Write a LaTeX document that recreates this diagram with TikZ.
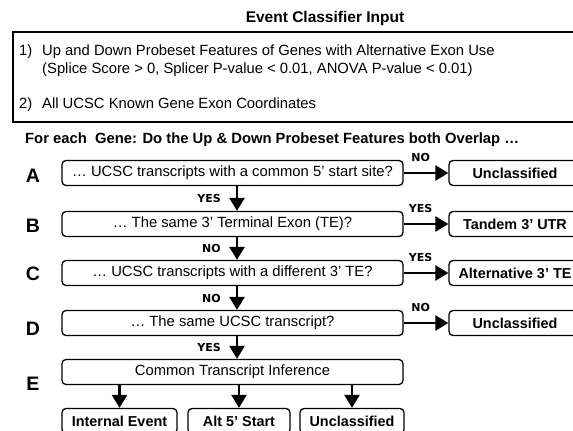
\documentclass[tikz,border=0pt]{standalone}
\usepackage{fontspec}
\setmainfont{Liberation Sans}
\newfontfamily\yesnofont{DejaVu Sans}
\usetikzlibrary{arrows.meta}

\begin{document}
\begin{tikzpicture}[x=1pt,y=-1pt,
    qbox/.style={draw,line width=1.3pt,rounded corners=4pt,minimum height=25pt,
        minimum width=341pt,inner sep=2pt,font=\fontsize{14.8}{16}\selectfont},
    outbox/.style={draw,line width=1.3pt,rounded corners=4pt,minimum height=25pt,
        inner sep=2pt,font=\fontsize{14.4}{16}\selectfont\bfseries},
    rowlab/.style={anchor=base,font=\fontsize{19.5}{20}\selectfont\bfseries},
    answer/.style={inner sep=1pt,font=\yesnofont\fontsize{11}{12}\selectfont\bfseries},
    flow/.style={line width=2.6pt,-{Triangle[width=15pt,length=13pt]}}]
    \useasboundingbox (0,0) rectangle (573,431);
    \clip (0,0) rectangle (573,431);

    % input
    \node[anchor=base,font=\fontsize{15.5}{18}\selectfont\bfseries] (title) at (325,22) {Event Classifier Input};
    \draw[line width=2.6pt] (13,32) rectangle (600,122);
    \node[anchor=base west,inner sep=0pt,font=\fontsize{14.8}{16}\selectfont] (in1) at (19,55)
        {\makebox[23pt][l]{1)}Up and Down Probeset Features of Genes with Alternative Exon Use};
    \node[anchor=base west,inner sep=0pt,font=\fontsize{14.8}{16}\selectfont] (in1b) at (42,73)
        {(Splice Score > 0, Splicer P-value < 0.01, ANOVA P-value < 0.01)};
    \node[anchor=base west,inner sep=0pt,font=\fontsize{14.8}{16}\selectfont] (in2) at (19,108)
        {\makebox[23pt][l]{2)}All UCSC Known Gene Exon Coordinates};
    \node[anchor=base west,inner sep=0pt,font=\fontsize{14.8}{16}\selectfont\bfseries] (foreach) at (25,143)
        {For each\ \ Gene: Do the Up \& Down Probeset Features both Overlap …};

    % questions
    \node[rowlab] (la) at (33,182) {A};
    \node[rowlab] (lb) at (33,232) {B};
    \node[rowlab] (lc) at (33,280) {C};
    \node[rowlab] (ld) at (33,335) {D};
    \node[rowlab] (le) at (33,390) {E};

    \node[qbox] (qa) at (232.5,173) {… UCSC transcripts with a common 5' start site?};
    \node[qbox] (qb) at (232.5,224) {… The same 3' Terminal Exon (TE)?};
    \node[qbox] (qc) at (232.5,273) {… UCSC transcripts with a different 3' TE?};
    \node[qbox] (qd) at (232.5,323) {… The same UCSC transcript?};
    \node[qbox] (qe) at (232.5,372) {Common Transcript Inference};

    % results
    \node[outbox,minimum width=132pt] (ua) at (515,173) {Unclassified};
    \node[outbox,minimum width=132pt] (tutr) at (515,224) {Tandem 3’ UTR};
    \node[outbox,minimum width=132pt] (alt3) at (515,273) {Alternative 3’ TE};
    \node[outbox,minimum width=132pt] (ud) at (515,323) {Unclassified};
    \node[outbox,minimum width=115pt] (inev) at (119.5,421) {Internal Event};
    \node[outbox,minimum width=102pt] (alt5) at (239,421) {Alt 5’ Start};
    \node[outbox,minimum width=104pt] (ue) at (352,421) {Unclassified};

    % arrows
    \draw[flow] ([xshift=4.5pt]qa.south) -- ([xshift=4.5pt]qb.north) node[midway,answer,left=14pt] {YES};
    \draw[flow] ([xshift=4.5pt]qb.south) -- ([xshift=4.5pt]qc.north) node[midway,answer,left=14pt] {NO};
    \draw[flow] ([xshift=4.5pt]qc.south) -- ([xshift=4.5pt]qd.north) node[midway,answer,left=14pt] {NO};
    \draw[flow] ([xshift=4.5pt]qd.south) -- ([xshift=4.5pt]qe.north) node[midway,answer,left=14pt] {YES};
    \draw[flow] (qa.east) -- (ua.west) node[pos=0.38,answer,above=9pt] {NO};
    \draw[flow] (qb.east) -- (tutr.west) node[pos=0.38,answer,above=9pt] {YES};
    \draw[flow] (qc.east) -- (alt3.west) node[pos=0.38,answer,above=9pt] {YES};
    \draw[flow] (qd.east) -- (ud.west) node[pos=0.38,answer,above=9pt] {NO};
    \draw[flow] (qe.south -| inev.north) -- (inev.north);
    \draw[flow] (qe.south -| alt5.north) -- (alt5.north);
    \draw[flow] (qe.south -| ue.north) -- (ue.north);
\end{tikzpicture}
\end{document}
